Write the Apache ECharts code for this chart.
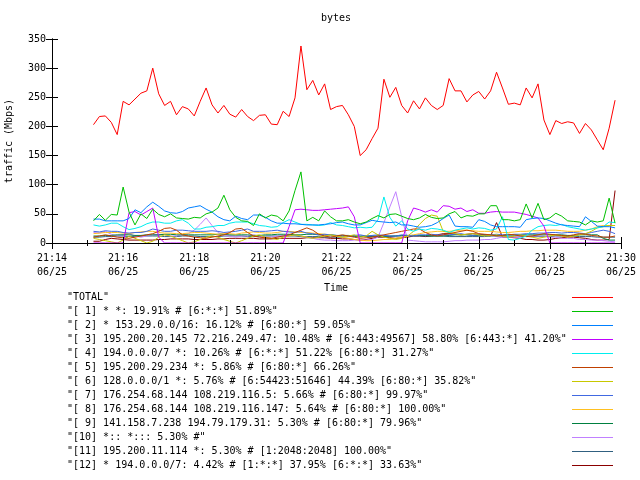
<!DOCTYPE html>
<html><head><meta charset="utf-8">
<script src="https://cdn.jsdelivr.net/npm/echarts@6/dist/echarts.min.js"></script>
<style>html,body{margin:0;padding:0;background:#fff}#c{width:640px;height:480px}</style>
</head><body><div id="c"></div>
<script>
// sampling: first sample 21:15:10, then every 10 s (x in seconds after 21:14:00)
const startSec = 70, stepSec = 10;
const xTickValues = [0, 120, 240, 360, 480, 600, 720, 840, 960];
const xTickLabels = ["21:14\n06/25","21:16\n06/25","21:18\n06/25","21:20\n06/25","21:22\n06/25","21:24\n06/25","21:26\n06/25","21:28\n06/25","21:30\n06/25"];
const yTicks = [0, 50, 100, 150, 200, 250, 300, 350];

const names = [
  '"TOTAL"',
  '"[ 1] * *: 19.91% # [6:*:*] 51.89%"',
  '"[ 2] * 153.29.0.0/16: 16.12% # [6:80:*] 59.05%"',
  '"[ 3] 195.200.20.145 72.216.249.47: 10.48% # [6:443:49567] 58.80% [6:443:*] 41.20%"',
  '"[ 4] 194.0.0.0/7 *: 10.26% # [6:*:*] 51.22% [6:80:*] 31.27%"',
  '"[ 5] 195.200.29.234 *: 5.86% # [6:80:*] 66.26%"',
  '"[ 6] 128.0.0.0/1 *: 5.76% # [6:54423:51646] 44.39% [6:80:*] 35.82%"',
  '"[ 7] 176.254.68.144 108.219.116.5: 5.66% # [6:80:*] 99.97%"',
  '"[ 8] 176.254.68.144 108.219.116.147: 5.64% # [6:80:*] 100.00%"',
  '"[ 9] 141.158.7.238 194.79.179.31: 5.30% # [6:80:*] 79.96%"',
  '"[10] *:: *::: 5.30% #"',
  '"[11] 195.200.11.114 *: 5.30% # [1:2048:2048] 100.00%"',
  '"[12] * 194.0.0.0/7: 4.42% # [1:*:*] 37.95% [6:*:*] 33.63%"'
];
const colors = ['#ff0000','#00c000','#0080ff','#c000ff','#00eeee','#c04000','#c8c800','#4169e1','#ffc020','#008040','#c080ff','#306080','#8b0000'];

const total = [203,217,218,207,186,243,237,247,257,261, 300,256,236,243,220,234,230,218,243,266,
  237,223,236,221,216,229,217,210,219,220, 204,203,226,217,249,338,263,279,254,273,
  229,234,236,220,200,150,160,179,197,281, 250,267,236,223,244,230,249,236,229,236,
  282,261,261,242,254,260,247,261,293,266, 238,240,237,266,249,273,211,186,210,205,
  208,206,188,205,194,177,160,197,245];
const s1 = [38,49,39,49,48,96,53,31,50,42, 58,49,45,50,43,42,41,44,43,50,
  53,60,82,57,44,38,37,30,50,43, 48,46,38,55,90,122,38,44,38,55,
  45,38,38,40,36,33,36,42,47,43, 49,50,46,42,40,43,49,44,42,43,
  50,54,43,47,46,50,50,64,64,40, 40,38,40,67,43,68,40,43,51,46,
  38,37,36,31,38,36,38,77,34];
const s2 = [41,41,38,38,38,38,42,57,52,62, 70,63,55,52,51,54,60,62,64,58,
  53,45,40,38,46,42,40,48,48,44, 38,34,34,33,33,32,31,31,31,32,
  33,35,36,33,31,31,35,39,37,36, 35,36,31,31,29,27,28,30,35,42,
  48,29,28,28,27,40,37,31,28,28, 28,28,27,40,42,43,42,38,34,31,
  30,29,28,45,37,29,28,28,26];
const s3 = [0,0,0,0,0,0,52,54,48,54, 60,10,0,0,0,0,0,0,0,0,
  0,0,0,0,0,0,0,0,0,0, 0,0,0,28,57,58,57,56,56,57,
  58,59,60,62,45,0,0,0,0,0, 0,0,0,38,60,57,53,57,53,64,
  63,58,60,54,57,51,51,53,54,53, 53,53,51,49,46,43,29,0,0,0,
  0,0,0,0,0,0,0,0,0];
const s4 = [31,29,31,34,34,28,23,25,28,33, 36,36,34,34,38,40,34,24,24,27,
  28,30,30,34,36,36,36,33,30,29, 27,28,35,40,36,32,32,31,30,31,
  35,31,30,28,26,27,26,27,40,79, 44,29,38,24,20,24,22,25,24,22,
  18,22,24,26,24,26,25,22,24,45, 6,5,8,12,22,28,30,31,30,32,
  28,26,24,22,24,26,28,36,35];
const s5 = [10,12,14,12,10,9,8,10,12,14, 16,20,25,26,22,14,12,10,9,8,
  10,12,14,18,24,25,18,12,10,9, 8,10,12,14,18,22,26,22,15,12,
  10,12,14,12,10,8,9,10,12,14, 16,18,20,22,24,24,18,14,12,14,
  16,18,20,22,20,16,15,14,12,13, 15,14,12,11,12,14,16,15,14,13,
  12,14,16,15,13,12,10,10,12];
const s6 = [8,6,4,2,0,5,12,8,4,0, 3,10,14,12,8,4,0,2,6,10,
  12,10,6,3,0,4,8,12,14,10, 8,6,10,12,14,12,10,8,10,12,
  14,12,10,12,14,10,12,20,14,10, 8,6,8,12,20,32,42,48,46,20,
  18,16,14,15,16,14,12,13,14,12, 10,12,14,12,10,8,10,12,14,12,
  10,12,14,16,20,26,28,30,30];
const s7 = [20,19,21,20,20,18,17,18,18,20, 24,22,20,20,22,22,21,20,20,20,
  21,20,18,19,20,22,24,20,20,20, 21,22,20,19,18,20,17,16,14,15,
  14,13,12,12,13,14,12,13,14,13, 12,12,14,13,12,14,14,15,14,14,
  14,15,16,14,13,14,13,14,15,14, 14,15,15,16,16,17,17,18,18,17,
  18,18,17,16,18,20,22,20,16];
const s8 = [16,17,18,18,18,17,16,18,19,20, 20,18,17,17,16,16,17,18,18,17,
  16,15,16,16,15,17,18,19,18,17, 17,18,20,20,19,18,18,17,16,15,
  14,12,10,8,6,5,4,4,5,6, 6,8,10,12,14,16,18,19,20,20,
  20,21,22,22,21,20,20,20,19,18, 18,19,20,20,21,21,22,22,22,21,
  20,20,20,22,24,28,30,30,30];
const s9 = [12,12,13,13,14,14,14,13,13,14, 14,14,15,15,14,14,14,14,14,14,
  14,15,15,14,14,14,14,13,13,14, 14,15,15,15,14,14,15,15,14,14,
  14,13,13,13,12,12,12,12,12,12, 12,12,13,13,13,13,13,12,12,12,
  13,14,14,14,13,13,14,14,13,13, 14,14,14,14,14,14,14,14,14,14,
  13,13,14,14,14,14,8,5,5];
const s10 = [18,17,20,15,12,14,16,12,10,12, 14,15,14,12,12,14,16,22,32,43,
  30,18,14,12,10,12,12,14,12,10, 10,12,12,12,14,12,10,8,6,5,
  5,4,4,4,5,6,5,6,10,35, 62,88,45,5,4,3,2,2,2,2,
  3,4,4,5,5,5,6,6,8,10, 10,10,10,12,12,12,12,10,10,8,
  8,8,6,6,5,5,4,3,2];
const s11 = [10,10,11,11,12,12,11,11,12,12, 12,12,11,11,11,12,12,12,11,11,
  11,11,12,12,12,12,11,11,11,12, 12,12,12,12,12,11,11,11,11,10,
  10,10,10,11,11,11,11,11,11,11, 11,12,12,12,12,12,12,12,12,12,
  11,11,11,11,11,11,11,12,12,12, 12,12,12,11,11,11,11,11,12,12,
  12,12,11,11,11,10,10,10,10];
const s12 = [3,3,6,8,7,6,5,5,5,5, 5,6,6,7,7,7,7,6,6,6,
  6,7,7,8,8,8,8,8,7,7, 7,8,8,8,8,8,9,9,9,9,
  8,8,7,7,6,5,6,8,10,10, 9,8,9,10,12,12,11,12,14,16,
  16,15,14,15,16,15,14,12,35,10, 10,9,8,6,6,5,5,6,8,9,
  10,10,9,8,6,5,5,6,90];

const allData = [total,s1,s2,s3,s4,s5,s6,s7,s8,s9,s10,s11,s12];
const FONT = 'DejaVu Sans Mono';

const series = allData.map((arr, i) => ({
  name: names[i], type: 'line', symbol: 'none', animation: false,
  data: arr.map((v, k) => [startSec + stepSec * k, v]),
  color: colors[i],
  lineStyle: { color: colors[i], width: 1 }, itemStyle: { color: colors[i] },
  z: 20 - i
}));

function xLabel(v) { const i = xTickValues.indexOf(v); return i >= 0 ? xTickLabels[i] : ''; }

const axisCommon = {
  axisLine: { show: true, lineStyle: { color: '#000', width: 1 } },
  axisTick: { show: true, inside: true, length: 6, lineStyle: { color: '#000' } },
  splitLine: { show: false }, z: 30
};

const chart = echarts.init(document.getElementById('c'), null, { renderer: 'canvas' });
chart.setOption({
  animation: false,
  backgroundColor: '#fff',
  color: colors,
  grid: { left: 52, right: 19, top: 39, bottom: 237, containLabel: false },
  xAxis: [
    Object.assign({}, axisCommon, { type: 'value', min: 0, max: 960, interval: 120, position: 'bottom',
      minorTick: { show: true, splitNumber: 2, length: 3, lineStyle: { color: '#000' } },
      axisLabel: { formatter: xLabel, fontFamily: FONT, fontSize: 10, color: '#000', lineHeight: 14, margin: 8 } }),
    Object.assign({}, axisCommon, { type: 'value', min: 0, max: 960, interval: 120, position: 'top',
      minorTick: { show: true, splitNumber: 2, length: 3, lineStyle: { color: '#000' } },
      axisLabel: { show: false } })
  ],
  yAxis: [
    Object.assign({}, axisCommon, { type: 'value', min: yTicks[0], max: yTicks[yTicks.length-1], interval: 50, position: 'left',
      axisLabel: { fontFamily: FONT, fontSize: 10, color: '#000', margin: 6 } }),
    Object.assign({}, axisCommon, { type: 'value', min: yTicks[0], max: yTicks[yTicks.length-1], interval: 50, position: 'right',
      axisLabel: { show: false } })
  ],
  legend: {
    show: true, orient: 'vertical', left: 67, top: 290.5, align: 'right', padding: 0,
    itemWidth: 41, itemHeight: 14, itemGap: 0, selectedMode: false,
    itemStyle: { opacity: 0 },
    formatter: function (n) { return '{t|' + n + '}'; },
    textStyle: { fontFamily: FONT, fontSize: 10, color: '#000',
      rich: { t: { width: 500, height: 14, lineHeight: 14, align: 'left', fontFamily: FONT, fontSize: 10, color: '#000' } } },
    data: names.map((n, i) => ({ name: n, itemStyle: { opacity: 0 },
      lineStyle: { color: colors[i], width: 1, opacity: 1, type: 'solid' } }))
  },
  graphic: [
    { type: 'text', x: 336, y: 13, style: { text: 'bytes', font: '10px "DejaVu Sans Mono"', fill: '#000', textAlign: 'center' } },
    { type: 'text', x: 336, y: 283, style: { text: 'Time', font: '10px "DejaVu Sans Mono"', fill: '#000', textAlign: 'center' } },
    { type: 'text', x: 4, y: 141, rotation: Math.PI / 2, style: { text: 'traffic (Mbps)', font: '10px "DejaVu Sans Mono"', fill: '#000', textAlign: 'center', textVerticalAlign: 'top' } }
  ],
  series: series
});
</script></body></html>
